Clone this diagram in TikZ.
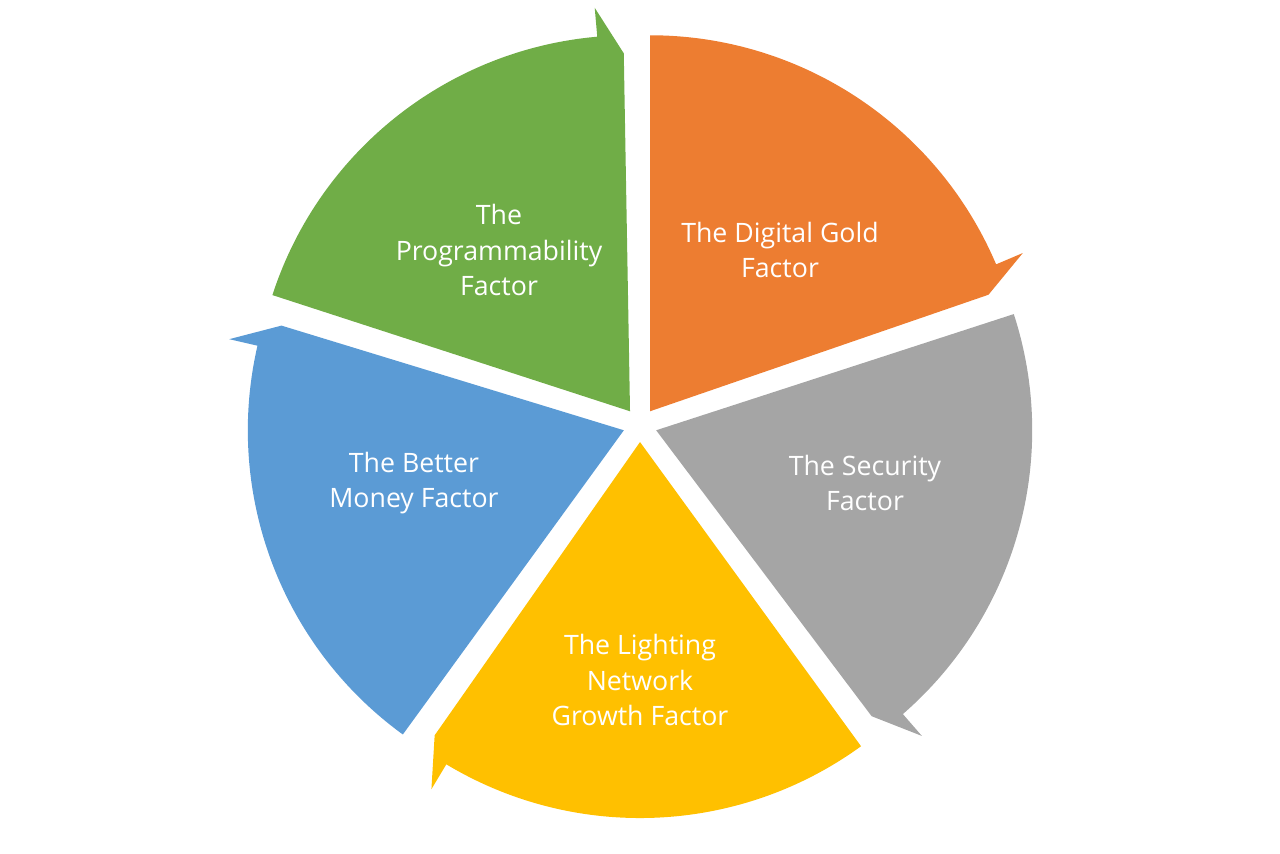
\documentclass[tikz,border=0pt]{standalone}
\usepackage{fontspec}
\setmainfont{Open Sans}
\definecolor{cgreen}{HTML}{70AD47}
\definecolor{corange}{HTML}{ED7D31}
\definecolor{cgrey}{HTML}{A5A5A5}
\definecolor{cyellow}{HTML}{FFC000}
\definecolor{cblue}{HTML}{5B9BD5}
\newcommand{\cycseg}[3]{%
  \pgfmathsetmacro{\bis}{(#1+#2)/2}
  \begin{scope}[shift={(6.4,-4.25)},shift={(\bis:0.17)}]
    \fill[#3] (0,0) -- (#1:3.76) arc[start angle=#1, end angle=#2+5, radius=3.76]
      -- (#2+5:4.05) -- (#2+1:3.58) -- cycle;
  \end{scope}}
\begin{document}
\begin{tikzpicture}[lbl/.style={text=white,align=center,font=\fontsize{7.6pt}{10pt}\selectfont}]
\useasboundingbox (0,0) rectangle (12.8,-8.53);
\cycseg{162}{90}{cgreen}
\cycseg{90}{18}{corange}
\cycseg{18}{-54}{cgrey}
\cycseg{-54}{-126}{cyellow}
\cycseg{-126}{-198}{cblue}
\node[lbl] (g) at (4.99,-2.50) {The\\Programmability\\Factor};
\node[lbl] (o) at (7.80,-2.50) {The Digital Gold\\Factor};
\node[lbl] (s) at (8.65,-4.83) {The Security\\Factor};
\node[lbl] (y) at (6.40,-6.80) {The Lighting\\Network\\Growth Factor};
\node[lbl] (b) at (4.14,-4.83) {The Better\\Money Factor};
\end{tikzpicture}
\end{document}
